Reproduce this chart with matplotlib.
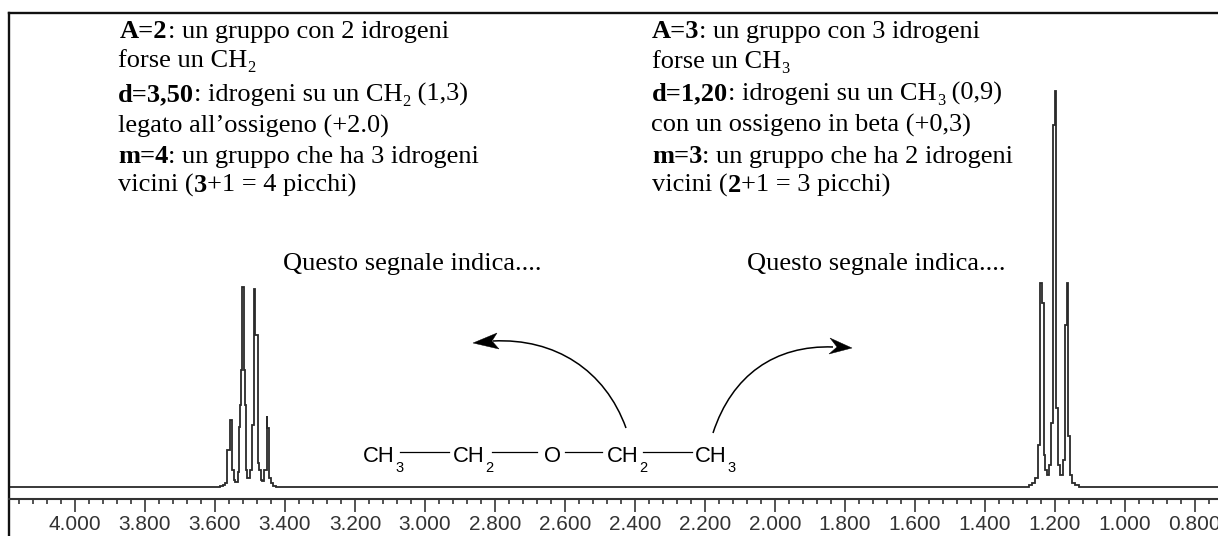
import matplotlib
matplotlib.use("Agg")
import matplotlib.pyplot as plt
from matplotlib.path import Path
from matplotlib.patches import PathPatch, Polygon
from matplotlib.ticker import MultipleLocator, FormatStrFormatter

W, H = 1218, 536

# Spectrum trace: chemical shift (ppm) and intensity (arbitrary units)
ppm_ch2 = [3.590, 3.580, 3.574, 3.569, 3.560, 3.554, 3.551, 3.549, 3.543, 3.540, 3.537, 3.534, 3.529, 3.526, 3.523,
           3.520, 3.517, 3.514, 3.511, 3.506, 3.503, 3.497, 3.491, 3.486, 3.483, 3.480, 3.477, 3.471, 3.466,
           3.463, 3.457, 3.454, 3.451, 3.449, 3.446, 3.443, 3.437, 3.429, 3.420]
int_ch2 = [0, 1, 2, 4, 37, 67, 29, 17, 7, 5, 5, 15, 60, 82, 117,
           200, 117, 82, 17, 9, 9, 17, 62, 198, 152, 152, 24, 17, 7,
           6, 17, 17, 71, 59, 59, 9, 4, 1, 0]
ppm_ch3 = [1.277, 1.271, 1.260, 1.251, 1.246, 1.240, 1.237, 1.234, 1.231, 1.229, 1.226, 1.220, 1.214, 1.209,
           1.203, 1.199, 1.194, 1.191, 1.189, 1.183, 1.177, 1.174, 1.169, 1.164, 1.160, 1.157, 1.154, 1.146,
           1.137, 1.123]
int_ch3 = [0, 2, 4, 9, 42, 204, 204, 184, 42, 32, 17, 12, 22, 64,
           362, 396, 79, 79, 22, 12, 12, 27, 162, 204, 51, 51, 12, 4,
           2, 0]
ppm_ends = [4.19, 0.70]
ppm_min, ppm_max = 0.734, 4.1886
major_step, minor_step = 0.2, 0.04

# Annotation text: each line is a list of (text, style) runs
left_lines = [
    (120, 38, [("A=2", "b"), (": un gruppo con 2 idrogeni", "r")]),
    (118, 67, [("forse un CH", "r"), ("2", "s")]),
    (118, 101, [("d=3,50", "b"), (": idrogeni su un CH", "r"), ("2", "s"), (" (1,3)", "r")]),
    (118, 133, [("legato all\u2019ossigeno (+2.0)", "r")]),
    (118, 163, [("m=4", "b"), (": un gruppo che ha 3 idrogeni", "r")]),
    (118, 192, [("vicini (", "r"), ("3", "b"), ("+1 = 4 picchi)", "r")]),
    (283, 270, [("Questo segnale indica....", "r")]),
]
right_lines = [
    (652, 38, [("A=3", "b"), (": un gruppo con 3 idrogeni", "r")]),
    (652, 68, [("forse un CH", "r"), ("3", "s")]),
    (652, 100, [("d=1,20", "b"), (": idrogeni su un CH", "r"), ("3", "s"), (" (0,9)", "r")]),
    (651, 132, [("con un ossigeno in beta (+0,3)", "r")]),
    (652, 163, [("m=3", "b"), (": un gruppo che ha 2 idrogeni", "r")]),
    (652, 192, [("vicini (", "r"), ("2", "b"), ("+1 = 3 picchi)", "r")]),
    (747, 270, [("Questo segnale indica....", "r")]),
]
formula = [(363, "CH", "3"), (453, "CH", "2"), (544, "O", ""), (607, "CH", "2"), (695, "CH", "3")]
bonds = [(400, 449), (492, 537), (565, 602), (643, 692)]

fig = plt.figure(figsize=(W / 100, H / 100), dpi=100, facecolor="white")

# Spectrum axes: left edge at x=9, top at y=12.5, running off the right and bottom of the image
ax = fig.add_axes([9 / W, 0, 1 - 9 / W, 1 - 12.5 / H])
ax.set_xlim(ppm_max, ppm_min)
ax.set_ylim(-(536 - 487), 487 - 12.5)
ppm = [ppm_ends[0]] + ppm_ch2 + ppm_ch3 + [ppm_ends[1]]
intensity = [0] + int_ch2 + int_ch3 + [0]
ax.plot(ppm, intensity, color="#2a2a2a", lw=1.3, solid_joinstyle="miter", drawstyle="steps-mid")
ax.spines["right"].set_visible(False)
for s in ("left", "top"):
    ax.spines[s].set_linewidth(1.7)
    ax.spines[s].set_color("#111111")
ax.spines["bottom"].set_position(("data", -11.5))
ax.spines["bottom"].set_linewidth(1.5)
ax.spines["bottom"].set_color("#333333")
ax.set_yticks([])
ax.xaxis.set_major_locator(MultipleLocator(major_step))
ax.xaxis.set_minor_locator(MultipleLocator(minor_step))
ax.xaxis.set_major_formatter(FormatStrFormatter("%.3f"))
ax.tick_params(axis="x", which="major", length=9, width=1.3, color="#444444", pad=3,
               labelsize=15, labelcolor="#333333")
ax.tick_params(axis="x", which="minor", length=3.5, width=1.3, color="#444444")
for lab in ax.get_xticklabels():
    lab.set_fontfamily("Liberation Sans")

# Overlay in pixel coordinates for the annotations
ov = fig.add_axes([0, 0, 1, 1], facecolor="none")
ov.set_xlim(0, W)
ov.set_ylim(H, 0)
ov.axis("off")

renderer = fig.canvas.get_renderer()


def run_line(x, y, runs, size=19.0):
    for txt, style in runs:
        kw = dict(family="Liberation Serif", color="black", va="baseline", ha="left")
        if style == "b":
            t = ov.text(x, y, txt, fontsize=size, fontweight="bold", **kw)
        elif style == "s":
            t = ov.text(x, y + 5, txt, fontsize=size * 0.62, **kw)
        else:
            t = ov.text(x, y, txt, fontsize=size, **kw)
        # keep leading/trailing spaces in the measured width
        probe = ov.text(0, 0, "|" + txt + "|", fontsize=t.get_fontsize(), fontweight=t.get_fontweight(),
                        family="Liberation Serif")
        bar = ov.text(0, 0, "||", fontsize=t.get_fontsize(), fontweight=t.get_fontweight(),
                      family="Liberation Serif")
        w = probe.get_window_extent(renderer).width - bar.get_window_extent(renderer).width
        probe.remove()
        bar.remove()
        x += w


for x, y, runs in left_lines + right_lines:
    run_line(x, y, runs)

for x, main, sub in formula:
    t = ov.text(x, 462, main, family="Liberation Sans", fontsize=15.8, color="black", va="baseline", ha="left")
    if sub:
        w = t.get_window_extent(renderer).width
        ov.text(x + w + 1, 472, sub, family="Liberation Sans", fontsize=10.5, color="black",
                va="baseline", ha="left")
for x0, x1 in bonds:
    ov.plot([x0, x1], [452, 452], color="black", lw=0.9)

# Curved arrows
curves = [
    ([(626, 428), (605, 370), (555, 338), (493, 341)], [(473, 343), (497, 333), (492, 341), (499, 349)]),
    ([(713, 433), (732, 375), (775, 345), (833, 347)], [(852, 348), (830, 338), (837, 347), (829, 354)]),
]
for pts, head in curves:
    ov.add_patch(PathPatch(Path(pts, [Path.MOVETO, Path.CURVE4, Path.CURVE4, Path.CURVE4]),
                           fc="none", ec="black", lw=1.1))
    ov.add_patch(Polygon(head, closed=True, fc="black", ec="black", lw=0.3))

fig.savefig("out.png", dpi=100)
